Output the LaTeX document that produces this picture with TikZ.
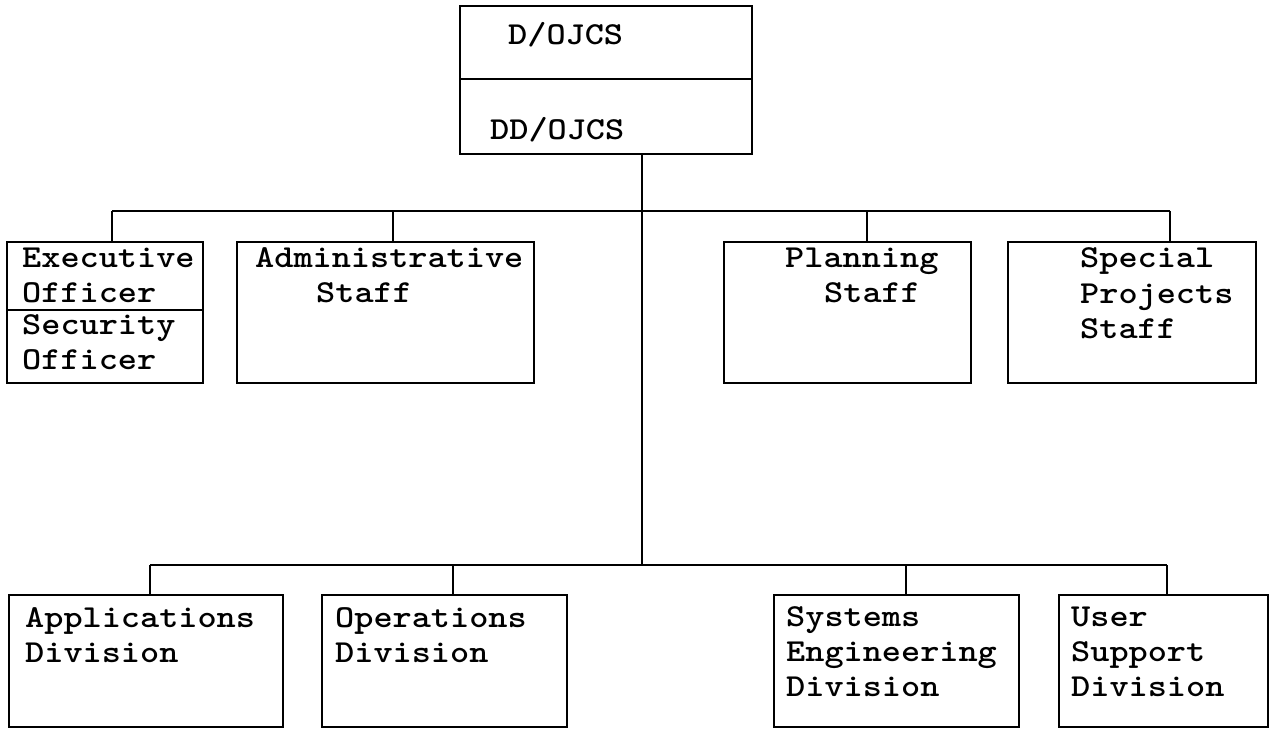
\documentclass[tikz,border=0pt]{standalone}
\usepackage{graphicx}
\newcommand\tw[1]{\scalebox{1.14}[1]{#1}}
\tikzset{
  unit/.style={x=1pt,y=-1pt},
  box/.style={draw,line width=2.8pt,rectangle,inner sep=0pt,outer sep=0pt,anchor=north west},
  link/.style={line width=2.8pt},
  txt/.style={anchor=base west,inner sep=0pt,font=\fontsize{32}{35}\ttfamily\bfseries}
}
\newcommand\boxat[5]{\node[box,minimum width=#4pt,minimum height=#5pt] (#1) at (#2,#3) {};}
\begin{document}
\begin{tikzpicture}[unit]
\useasboundingbox (0,0) rectangle (1272,730);
\fill[white] (0,0) rectangle (1272,730);

% director and deputy
\boxat{dir}{460}{6}{292}{73}
\boxat{dep}{460}{79}{292}{75}
\node[txt] (tdir) at (508,45) {\tw{D/OJCS}};
\node[txt] (tdep) at (490,140) {\tw{DD/OJCS}};

% staff row
\boxat{exec}{7}{242}{196}{68}
\boxat{sec}{7}{310}{196}{73}
\boxat{adm}{237}{242}{297}{141}
\boxat{plan}{724}{242}{247}{141}
\boxat{spec}{1008}{242}{248}{141}

\node[txt] (t1) at (22,268) {\tw{Executive}};
\node[txt] (t2) at (22,302) {\tw{Officer}};
\node[txt] (t3) at (22,334) {\tw{Security}};
\node[txt] (t4) at (22,369) {\tw{Officer}};
\node[txt] (t5) at (255,268) {\tw{Administrative}};
\node[txt] (t6) at (316,302) {\tw{Staff}};
\node[txt] (t7) at (785,268) {\tw{Planning}};
\node[txt] (t8) at (824,302) {\tw{Staff}};
\node[txt] (t9) at (1080,268) {\tw{Special}};
\node[txt] (t10) at (1080,303) {\tw{Projects}};
\node[txt] (t11) at (1080,338) {\tw{Staff}};

% division row
\boxat{app}{9}{595}{274}{132}
\boxat{ops}{322}{595}{245}{132}
\boxat{sys}{774}{595}{245}{132}
\boxat{usr}{1059}{595}{209}{132}

\node[txt] (t12) at (25,627) {\tw{Applications}};
\node[txt] (t13) at (25,662) {\tw{Division}};
\node[txt] (t14) at (335,627) {\tw{Operations}};
\node[txt] (t15) at (335,662) {\tw{Division}};
\node[txt] (t16) at (786,626) {\tw{Systems}};
\node[txt] (t17) at (786,661) {\tw{Engineering}};
\node[txt] (t18) at (786,696) {\tw{Division}};
\node[txt] (t19) at (1071,626) {\tw{User}};
\node[txt] (t20) at (1071,661) {\tw{Support}};
\node[txt] (t21) at (1071,696) {\tw{Division}};

% connector geometry
\coordinate (hubA) at (642,211);
\coordinate (hubB) at (642,565);
\coordinate (dA1) at (112,211);
\coordinate (dA2) at (393,211);
\coordinate (dA3) at (867,211);
\coordinate (dA4) at (1170,211);
\coordinate (dB1) at (150,565);
\coordinate (dB2) at (453,565);
\coordinate (dB3) at (906,565);
\coordinate (dB4) at (1167,565);

\draw[link] (hubA |- dep.south) -- (hubB);
\draw[link] (dA1) -- (dA4);
\draw[link] (dB1) -- (dB4);
\draw[link] (dA1) -- (dA1 |- exec.north);
\draw[link] (dA2) -- (dA2 |- adm.north);
\draw[link] (dA3) -- (dA3 |- plan.north);
\draw[link] (dA4) -- (dA4 |- spec.north);
\draw[link] (dB1) -- (dB1 |- app.north);
\draw[link] (dB2) -- (dB2 |- ops.north);
\draw[link] (dB3) -- (dB3 |- sys.north);
\draw[link] (dB4) -- (dB4 |- usr.north);
\end{tikzpicture}
\end{document}
